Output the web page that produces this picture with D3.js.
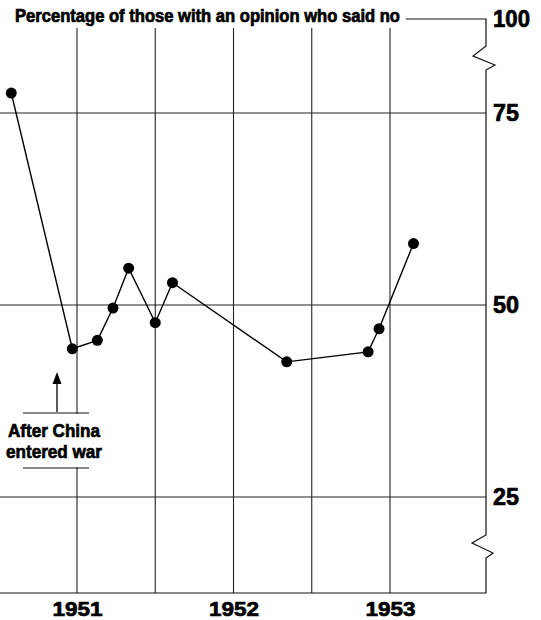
<!DOCTYPE html>
<html>
<head>
<meta charset="utf-8">
<script src="https://cdn.jsdelivr.net/npm/d3@7"></script>
<style>
  body { margin: 0; background: #fff; }
  svg { display: block; font-family: "Liberation Sans", Arial, sans-serif; font-weight: bold; }
  .heavy { stroke: #000; stroke-width: 0.7px; fill: #000; }
</style>
</head>
<body>
<svg id="chart" width="541" height="620"></svg>
<script>
// survey dates (decimal years) and share of those with an opinion who said no
const surveyDates = [1950.58, 1950.97, 1951.13, 1951.23, 1951.33, 1951.50, 1951.61, 1952.34, 1952.86, 1952.93, 1953.15];
const pctNo = [77.6, 44.3, 45.4, 49.6, 54.8, 47.7, 52.9, 42.6, 43.9, 46.9, 58.0];
const yearTicks = [1951, 1952, 1953];
const gridYears = [1951, 1951.5, 1952, 1952.5, 1953];
const pctTicks = [25, 50, 75, 100];
const gridPcts = [25, 50, 75];

const svg = d3.select("#chart");
const axisX = 486, plotTop = 28;

let x = d3.scaleLinear().domain([1951, 1953]).range([77, 390]);
// broken axis: linear from 25 to ~82, then squeezed up to 100
let y = d3.scaleLinear().domain([0, 25, 75, 82, 100]).range([593, 497, 113, 59.2, 19]);

let data = surveyDates.map((d, i) => ({date: d, value: pctNo[i]}));

// grid
svg.append("g").selectAll("line")
    .data(gridYears)
    .join("line")
    .attr("x1", d => x(d)).attr("x2", d => x(d))
    .attr("y1", plotTop).attr("y2", y(0))
    .attr("stroke", "#222").attr("stroke-width", 1.1);

svg.append("g").selectAll("line")
    .data(gridPcts)
    .join("line")
    .attr("x1", 0).attr("x2", axisX)
    .attr("y1", d => y(d)).attr("y2", d => y(d))
    .attr("stroke", "#222").attr("stroke-width", 1.1);

// frame with zigzag breaks
let frame = d3.path();
frame.moveTo(406, y(100));
frame.lineTo(axisX, y(100));
frame.lineTo(axisX, 46);
frame.lineTo(axisX - 13, 56);
frame.lineTo(axisX + 9, 65);
frame.lineTo(axisX, 70);
frame.lineTo(axisX, 535);
frame.lineTo(axisX - 14, 543);
frame.lineTo(axisX + 7, 553);
frame.lineTo(axisX, 558);
frame.lineTo(axisX, y(0));
frame.lineTo(0, y(0));
svg.append("path")
    .attr("d", frame.toString())
    .attr("fill", "none")
    .attr("stroke", "#111")
    .attr("stroke-width", 1.2);

// axes
let yAxis = svg.append("g")
    .attr("transform", `translate(${axisX},0)`)
    .call(d3.axisRight(y).tickValues(pctTicks).tickSize(0).tickPadding(7));
yAxis.select(".domain").remove();
yAxis.selectAll("text")
    .attr("class", "heavy")
    .attr("font-size", 24)
    .attr("font-family", "Liberation Sans, Arial, sans-serif")
    .attr("font-weight", "bold")
    .attr("textLength", d => d === 100 ? 37 : 26)
    .attr("lengthAdjust", "spacingAndGlyphs");

let xAxis = svg.append("g")
    .attr("transform", `translate(0,${y(0)})`)
    .call(d3.axisBottom(x).tickValues(yearTicks).tickFormat(d3.format("d")).tickSize(0).tickPadding(8));
xAxis.select(".domain").remove();
xAxis.selectAll("text")
    .attr("class", "heavy")
    .attr("font-size", 21)
    .attr("font-family", "Liberation Sans, Arial, sans-serif")
    .attr("font-weight", "bold")
    .attr("textLength", 50)
    .attr("lengthAdjust", "spacingAndGlyphs");

// title
svg.append("text")
    .attr("class", "heavy")
    .attr("x", 15).attr("y", 22)
    .attr("font-size", 17.5)
    .attr("stroke-width", 0.5)
    .attr("textLength", 385)
    .attr("lengthAdjust", "spacingAndGlyphs")
    .text("Percentage of those with an opinion who said no");

// annotation
let note = svg.append("g");
note.append("rect")
    .attr("x", 0).attr("y", 414).attr("width", 104).attr("height", 53)
    .attr("fill", "#fff");
note.selectAll("line.rule")
    .data([413, 468])
    .join("line")
    .attr("class", "rule")
    .attr("x1", 23).attr("x2", 89)
    .attr("y1", d => d).attr("y2", d => d)
    .attr("stroke", "#111").attr("stroke-width", 1.2);
note.append("line")
    .attr("x1", 57).attr("x2", 57).attr("y1", 383).attr("y2", 412)
    .attr("stroke", "#000").attr("stroke-width", 1.3);
note.append("path")
    .attr("d", "M57,372 L52.5,384 L61.5,384 Z")
    .attr("fill", "#000");
note.selectAll("text")
    .data([["After China", 437, 92], ["entered war", 458, 96]])
    .join("text")
    .attr("class", "heavy")
    .attr("x", 54).attr("y", d => d[1])
    .attr("text-anchor", "middle")
    .attr("font-size", 19)
    .attr("stroke-width", 0.6)
    .attr("textLength", d => d[2])
    .attr("lengthAdjust", "spacingAndGlyphs")
    .text(d => d[0]);

// series
let line = d3.line().x(d => x(d.date)).y(d => y(d.value));
svg.append("path")
    .datum(data)
    .attr("d", line)
    .attr("fill", "none")
    .attr("stroke", "#000")
    .attr("stroke-width", 1.4);

svg.append("g").selectAll("circle")
    .data(data)
    .join("circle")
    .attr("cx", d => x(d.date))
    .attr("cy", d => y(d.value))
    .attr("r", 5.5)
    .attr("fill", "#000");
</script>
</body>
</html>
